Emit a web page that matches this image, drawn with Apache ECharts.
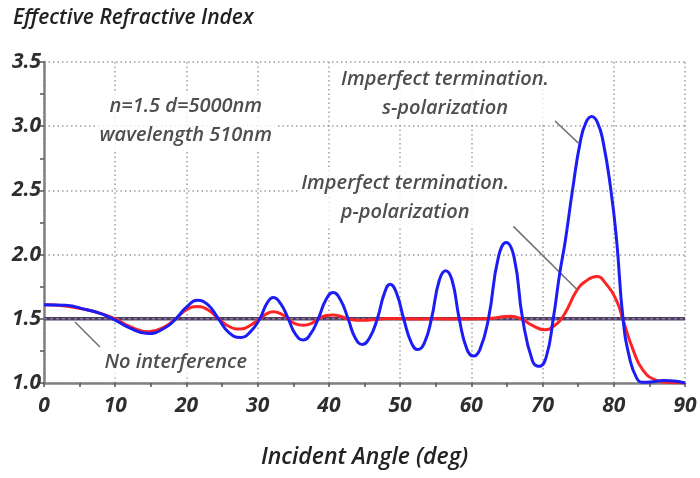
<!DOCTYPE html>
<html>
<head>
<meta charset="utf-8">
<script src="https://cdn.jsdelivr.net/npm/echarts@6/dist/echarts.min.js"></script>
<style>
  html, body { margin: 0; padding: 0; background: #fff; }
  #chart { width: 700px; height: 478px; }
</style>
</head>
<body>
<div id="chart"></div>
<script>
// Effective refractive index vs incident angle, n=1.5 film, d=5000nm, 510nm light
const xTicks = [0, 10, 20, 30, 40, 50, 60, 70, 80, 90];
const yTicks = [1.0, 1.5, 2.0, 2.5, 3.0, 3.5];

// s-polarization, imperfect termination
const sAngle = [0, 3, 6, 8, 10, 12, 14.6, 17, 18.5, 20, 21.5, 23, 24.5, 26, 27.6, 29, 30.3, 31.3, 32.2, 33.2,
  34.3, 35.3, 36.4, 37.4, 38.5, 39.6, 40.6, 41.6, 42.7, 43.7, 44.7, 45.7, 46.8, 47.8, 48.6, 49.5,
  50.5, 51.6, 52.5, 53.4, 54.4, 55.5, 56.4, 57.3, 58.3, 59.4, 60.3, 61.2, 62.4, 63.8, 64.9, 66.0,
  67.2, 68.6, 69.5, 70.5, 71.5, 72.4, 73.2, 74.2, 75.3, 76.1, 76.9, 77.7, 78.5, 79.6, 80.4, 81.3,
  82.2, 83.2, 84.1, 85.5, 87, 88.5, 90];
const sIndex = [1.61, 1.605, 1.57, 1.54, 1.49, 1.43, 1.385, 1.43, 1.50, 1.59, 1.645, 1.61, 1.50, 1.39, 1.355, 1.40, 1.50, 1.62, 1.665, 1.62,
  1.50, 1.38, 1.335, 1.38, 1.50, 1.65, 1.705, 1.65, 1.50, 1.35, 1.30, 1.35, 1.50, 1.70, 1.77, 1.70,
  1.50, 1.31, 1.26, 1.31, 1.50, 1.80, 1.875, 1.80, 1.50, 1.26, 1.21, 1.26, 1.50, 1.98, 2.095, 1.98,
  1.50, 1.17, 1.13, 1.20, 1.50, 1.85, 2.11, 2.50, 2.88, 3.03, 3.075, 3.03, 2.88, 2.50, 2.11, 1.50,
  1.20, 1.04, 1.005, 1.01, 1.02, 1.015, 1.0];

// p-polarization, imperfect termination
const pAngle = [0, 3, 6, 8, 10, 12, 14.7, 17, 18.5, 20, 21.5, 23, 24.5, 26, 27.6, 29, 30.3, 31.3, 32.2, 33.2,
  34.3, 35.3, 36.4, 37.4, 38.5, 39.6, 40.6, 41.6, 43, 44.7, 47, 49, 52, 55, 58, 61, 63, 65.5, 67,
  68.5, 70.3, 71.5, 73, 74.8, 76, 77.6, 78.8, 80.4, 81.3, 82.7, 84.1, 86, 87.5, 90];
const pIndex = [1.61, 1.60, 1.57, 1.54, 1.50, 1.44, 1.40, 1.44, 1.50, 1.57, 1.595, 1.57, 1.50, 1.44, 1.42, 1.45, 1.50, 1.54, 1.555, 1.54,
  1.50, 1.46, 1.45, 1.46, 1.50, 1.525, 1.53, 1.52, 1.495, 1.488, 1.497, 1.502, 1.498, 1.50, 1.498, 1.50, 1.505, 1.52, 1.50,
  1.45, 1.415, 1.44, 1.53, 1.72, 1.79, 1.83, 1.78, 1.64, 1.49, 1.26, 1.10, 1.02, 1.005, 1.0];

// Bulk index with no interference
const bulkIndex = 1.5;

// Annotation texts, their centre points and leader lines (data units)
const noteTexts = ['n=1.5 d=5000nm\nwavelength 510nm', 'Imperfect termination.\ns-polarization',
  'Imperfect termination.\np-polarization', 'No interference'];
const noteAt = [[19.9, 3.04], [56.3, 3.256], [50.7, 2.44], [18.5, 1.163]];
const leaders = [
  [[71.75, 3.04], [75.0, 2.87]],
  [[65.9, 2.22], [74.8, 1.73]],
  [[4.35, 1.475], [7.86, 1.28]]
];

const FONT = '"Open Sans"';
const TXT = '#222';

const zip = (a, b) => a.map((v, i) => [v, b[i]]);

const chart = echarts.init(document.getElementById('chart'), null, { renderer: 'canvas' });

chart.setOption({
  animation: false,
  backgroundColor: '#fff',
  title: {
    text: 'Effective Refractive Index',
    left: 8, top: 3,
    textStyle: { fontFamily: FONT, fontStyle: 'italic', fontWeight: 600, fontSize: 21, color: TXT }
  },
  grid: { left: 44, right: 15, top: 62, bottom: 95, containLabel: false },
  xAxis: {
    type: 'value', min: xTicks[0], max: xTicks[xTicks.length - 1], interval: 10,
    name: 'Incident Angle (deg)', nameLocation: 'middle', nameGap: 63,
    nameTextStyle: { fontFamily: FONT, fontStyle: 'italic', fontWeight: 600, fontSize: 23, color: TXT },
    axisLine: { lineStyle: { color: '#808080', width: 2.5 } },
    axisTick: { show: true, length: 4, lineStyle: { color: '#555', width: 1.5 } },
    minorTick: { show: true, splitNumber: 2, length: 4, lineStyle: { color: '#555', width: 1.5 } },
    axisLabel: { fontFamily: FONT, fontStyle: 'italic', fontWeight: 'bold', fontSize: 21, color: '#2e2e2e', margin: 13 },
    splitLine: { show: true, lineStyle: { color: '#a0a0a0', width: 1.5, type: [1.5, 3] } }
  },
  yAxis: {
    type: 'value', min: yTicks[0], max: yTicks[yTicks.length - 1], interval: 0.5,
    axisLine: { show: true, lineStyle: { color: '#808080', width: 2.5 } },
    axisTick: { show: true, length: 4, lineStyle: { color: '#555', width: 1.5 } },
    minorTick: { show: true, splitNumber: 2, length: 4, lineStyle: { color: '#555', width: 1.5 } },
    axisLabel: {
      fontFamily: FONT, fontStyle: 'italic', fontWeight: 'bold', fontSize: 21, color: '#2e2e2e', margin: 3,
      formatter: v => v.toFixed(1)
    },
    splitLine: { show: true, lineStyle: { color: '#a0a0a0', width: 1.5, type: [1.5, 3] } }
  },
  series: [
    {
      name: 'No interference', type: 'line', symbol: 'none', z: 3,
      data: [[xTicks[0], bulkIndex], [xTicks[xTicks.length - 1], bulkIndex]],
      lineStyle: { color: '#4d3d62', width: 3.5 }
    },
    {
      name: 'No interference dots', type: 'line', symbol: 'none', z: 3,
      data: [[xTicks[0], bulkIndex], [xTicks[xTicks.length - 1], bulkIndex]],
      lineStyle: { color: '#a898b8', width: 1, type: [3, 3] }
    },
    {
      name: 'p-polarization', type: 'line', symbol: 'none', smooth: 0.5, z: 4,
      data: zip(pAngle, pIndex),
      lineStyle: { color: '#ff2424', width: 3 }
    },
    {
      name: 's-polarization', type: 'line', symbol: 'none', smooth: 0.5, z: 5,
      data: zip(sAngle, sIndex),
      lineStyle: { color: '#1c1cf5', width: 3 }
    },
    {
      name: 'leaders', type: 'line', symbol: 'none', z: 6, data: [],
      markLine: {
        silent: true, symbol: 'none', animation: false,
        lineStyle: { color: '#707070', width: 1.5, type: 'solid' },
        label: { show: false },
        data: leaders.map(l => [{ coord: l[0] }, { coord: l[1] }])
      }
    },
    {
      name: 'notes', type: 'scatter', symbolSize: 0, z: 2, silent: true,
      data: noteAt.map((c, i) => ({ value: c, note: noteTexts[i] })),
      label: {
        show: true, position: 'inside',
        formatter: p => p.data.note,
        fontFamily: FONT, fontStyle: 'italic', fontWeight: 600, fontSize: 20, lineHeight: 29, color: TXT,
        backgroundColor: '#fff', padding: [1, 3], align: 'center', verticalAlign: 'middle'
      }
    }
  ]
});
</script>
</body>
</html>
